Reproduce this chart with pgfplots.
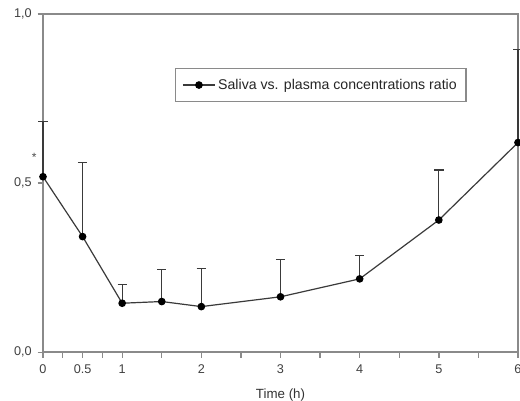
\documentclass[border=0pt]{standalone}
\usepackage{pgfplots}
\pgfplotsset{compat=1.18}
\pgfplotsset{legend image code/.code={\draw[mark repeat=2, mark phase=2, #1] plot coordinates {(0pt,0pt) (12pt,0pt) (24pt,0pt)};}}
\usepackage{fontspec}
\setmainfont{Liberation Sans}
\definecolor{framegray}{HTML}{8A8A8A}
\definecolor{datagray}{HTML}{3A3A3A}
\begin{document}
\begin{tikzpicture}
\begin{axis}[
  scale only axis,
  width=356.25pt, height=253.7pt,
  xmin=0, xmax=6, ymin=0, ymax=1,
  clip=false,
  axis line style={framegray, line width=1.2pt},
  tick style={framegray, line width=1pt},
  tick align=outside,
  major tick length=4pt,
  minor tick length=4pt,
  xtick={0,0.5,1,2,3,4,5,6},
  xticklabels={0,0.5,1,2,3,4,5,6},
  minor xtick={0.25,0.75,1.5,2.5,3.5,4.5,5.5},
  ytick={0,0.5,1},
  yticklabels={{0,0},{0,5},{1,0}},
  xtick pos=bottom, ytick pos=left,
  ticklabel style={font=\fontsize{9.5}{11}\selectfont, text=black!75},
  xticklabel style={yshift=-2pt},
  yticklabel style={xshift=-1pt},
  /pgf/number format/assume math mode=true,
  xlabel={Time (h)},
  xlabel style={font=\fontsize{10}{12}\selectfont, text=black!80, yshift=-4pt},
  legend style={at={(axis cs:3.51,0.79)}, anchor=center, draw=framegray, line width=0.9pt,
    font=\fontsize{10.6}{12}\selectfont, inner xsep=5pt, inner ysep=6pt,
    legend cell align=left, text=black!85},
]
\addplot[datagray, line width=0.9pt, mark=*, mark size=2.4pt,
  mark options={fill=black, draw=black},
  error bars/.cd, y dir=plus, y explicit,
  error bar style={datagray, line width=0.9pt},
  error mark options={rotate=90, mark size=3.5pt, datagray, line width=0.9pt}]
  table[x=x, y=y, y error=e] {
x    y      e
0    0.519  0.163
0.5  0.342  0.218
1    0.145  0.056
1.5  0.150  0.094
2    0.135  0.113
3    0.164  0.111
4    0.217  0.069
5    0.391  0.148
6    0.620  0.274
};
\addlegendentry{Saliva vs. plasma concentrations ratio}
\node[font=\fontsize{9}{10}\selectfont, text=black!70] at (axis cs:-0.11,0.575) {*};
\coordinate (ll) at (rel axis cs:0,0);
\coordinate (ur) at (rel axis cs:0,1);
\end{axis}
\pgfresetboundingbox
\path[use as bounding box] ([shift={(-32.25pt,-35.8pt)}]ll) rectangle ([shift={(357.75pt,10.5pt)}]ur);
\end{tikzpicture}
\end{document}
